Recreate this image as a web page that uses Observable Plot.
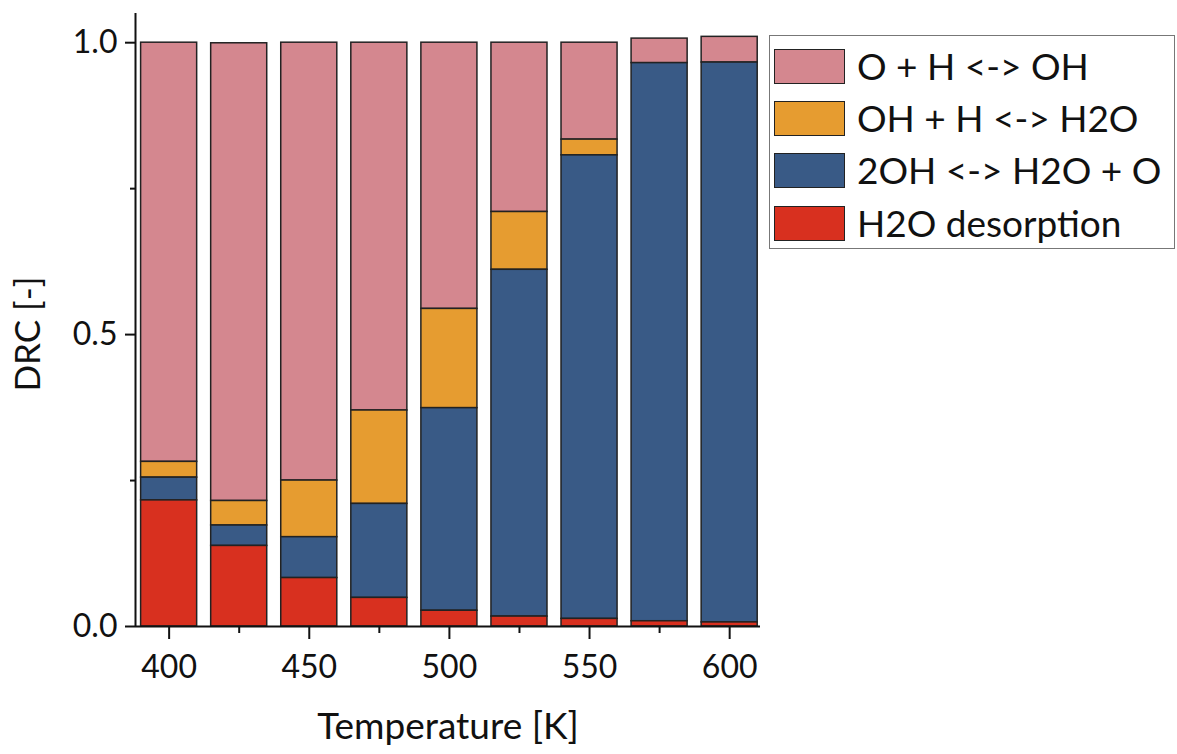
<!DOCTYPE html>
<html>
<head>
<meta charset="utf-8">
<script src="https://cdn.jsdelivr.net/npm/d3@7"></script>
<script src="https://cdn.jsdelivr.net/npm/@observablehq/plot@0.6"></script>
<style>
  html, body { margin: 0; padding: 0; background: #fff; }
  #wrap { position: relative; width: 1177px; height: 754px; font-family: Lato, "Open Sans", sans-serif; }
  #legend { position: absolute; left: 769px; top: 35px; width: 406px; height: 214px; border: 1.5px solid #777; box-sizing: border-box; background: #fff; }
  .item { position: absolute; left: 4px; height: 36px; display: flex; align-items: center; }
  .sw { width: 71px; height: 35px; border: 1.5px solid #222; box-sizing: border-box; margin-right: 12px; }
  .lab { font-size: 37px; color: #111; white-space: nowrap; line-height: 36px; }
</style>
</head>
<body>
<div id="wrap"><div id="chart"></div><div id="legend"></div></div>
<script>
// Temperatures (K)
const temperatures = [400, 425, 450, 475, 500, 525, 550, 575, 600];
// Series (legend order, top to bottom)
const seriesNames = ["O + H <-> OH", "OH + H <-> H2O", "2OH <-> H2O + O", "H2O desorption"];
const seriesColors = ["#d4878f", "#e69c30", "#395a86", "#d8301f"];
// DRC values per series, per temperature
const oh_formation   = [0.718, 0.784, 0.750, 0.630, 0.456, 0.290, 0.166, 0.042, 0.044];
const h2o_formation  = [0.027, 0.042, 0.097, 0.160, 0.170, 0.099, 0.027, 0.000, 0.000];
const disproportion  = [0.039, 0.035, 0.070, 0.161, 0.347, 0.594, 0.794, 0.956, 0.959];
const h2o_desorption = [0.216, 0.138, 0.083, 0.049, 0.027, 0.017, 0.013, 0.009, 0.007];
// Axis ticks
const xMajorTicks = [400, 450, 500, 550, 600];
const xMinorTicks = [425, 475, 525, 575];
const yMajorTicks = [0, 0.5, 1.0];
const yMinorTicks = [0.25, 0.75];

const seriesValues = [oh_formation, h2o_formation, disproportion, h2o_desorption];
const halfWidth = 10;
const rows = [];
temperatures.forEach((T, i) => {
  seriesValues.forEach((vals, s) => {
    rows.push({T, x1: T - halfWidth, x2: T + halfWidth, series: seriesNames[s], value: vals[i]});
  });
});
const stackOrder = [seriesNames[3], seriesNames[2], seriesNames[1], seriesNames[0]];

const font = "Lato, 'Open Sans', sans-serif";
const chart = Plot.plot({
  width: 1177,
  height: 754,
  marginLeft: 135,
  marginRight: 417,
  marginTop: 13,
  marginBottom: 128,
  style: {fontFamily: font, color: "#111", background: "#fff"},
  x: {domain: [388, 611]},
  y: {domain: [0, 1.05]},
  color: {domain: seriesNames, range: seriesColors},
  marks: [
    Plot.rectY(rows, Plot.stackY({
      x1: "x1", x2: "x2", y: "value", fill: "series", order: stackOrder,
      stroke: "#222", strokeWidth: 1.5
    })),
    Plot.ruleY([0], {stroke: "#111", strokeWidth: 2}),
    Plot.ruleX([388], {stroke: "#111", strokeWidth: 2}),
    Plot.axisX(xMajorTicks, {tickSize: 13, tickPadding: 16, fontSize: 32, label: null, stroke: "#111", strokeWidth: 2}),
    Plot.axisX(xMinorTicks, {tickSize: 7, tickFormat: () => "", label: null, stroke: "#111", strokeWidth: 2}),
    Plot.axisY(yMajorTicks, {tickSize: 10, tickPadding: 8, fontSize: 32, tickFormat: d3.format(".1f"), label: null, stroke: "#111", strokeWidth: 2}),
    Plot.axisY(yMinorTicks, {tickSize: 5, tickFormat: () => "", label: null, stroke: "#111", strokeWidth: 2}),
    Plot.text(["DRC [-]"], {frameAnchor: "left", textAnchor: "middle", dx: -107, dy: 14, rotate: -90, fontSize: 35, fill: "#111"}),
    Plot.text(["Temperature [K]"], {frameAnchor: "bottom", textAnchor: "middle", dy: 112, fontSize: 37, fill: "#111"})
  ]
});
document.getElementById("chart").appendChild(chart);

const legend = document.getElementById("legend");
const tops = [12, 64, 116, 169];
seriesNames.forEach((name, i) => {
  const item = document.createElement("div");
  item.className = "item";
  item.style.top = tops[i] + "px";
  const sw = document.createElement("div");
  sw.className = "sw";
  sw.style.background = seriesColors[i];
  const lab = document.createElement("span");
  lab.className = "lab";
  lab.textContent = name;
  item.appendChild(sw);
  item.appendChild(lab);
  legend.appendChild(item);
});
</script>
</body>
</html>
